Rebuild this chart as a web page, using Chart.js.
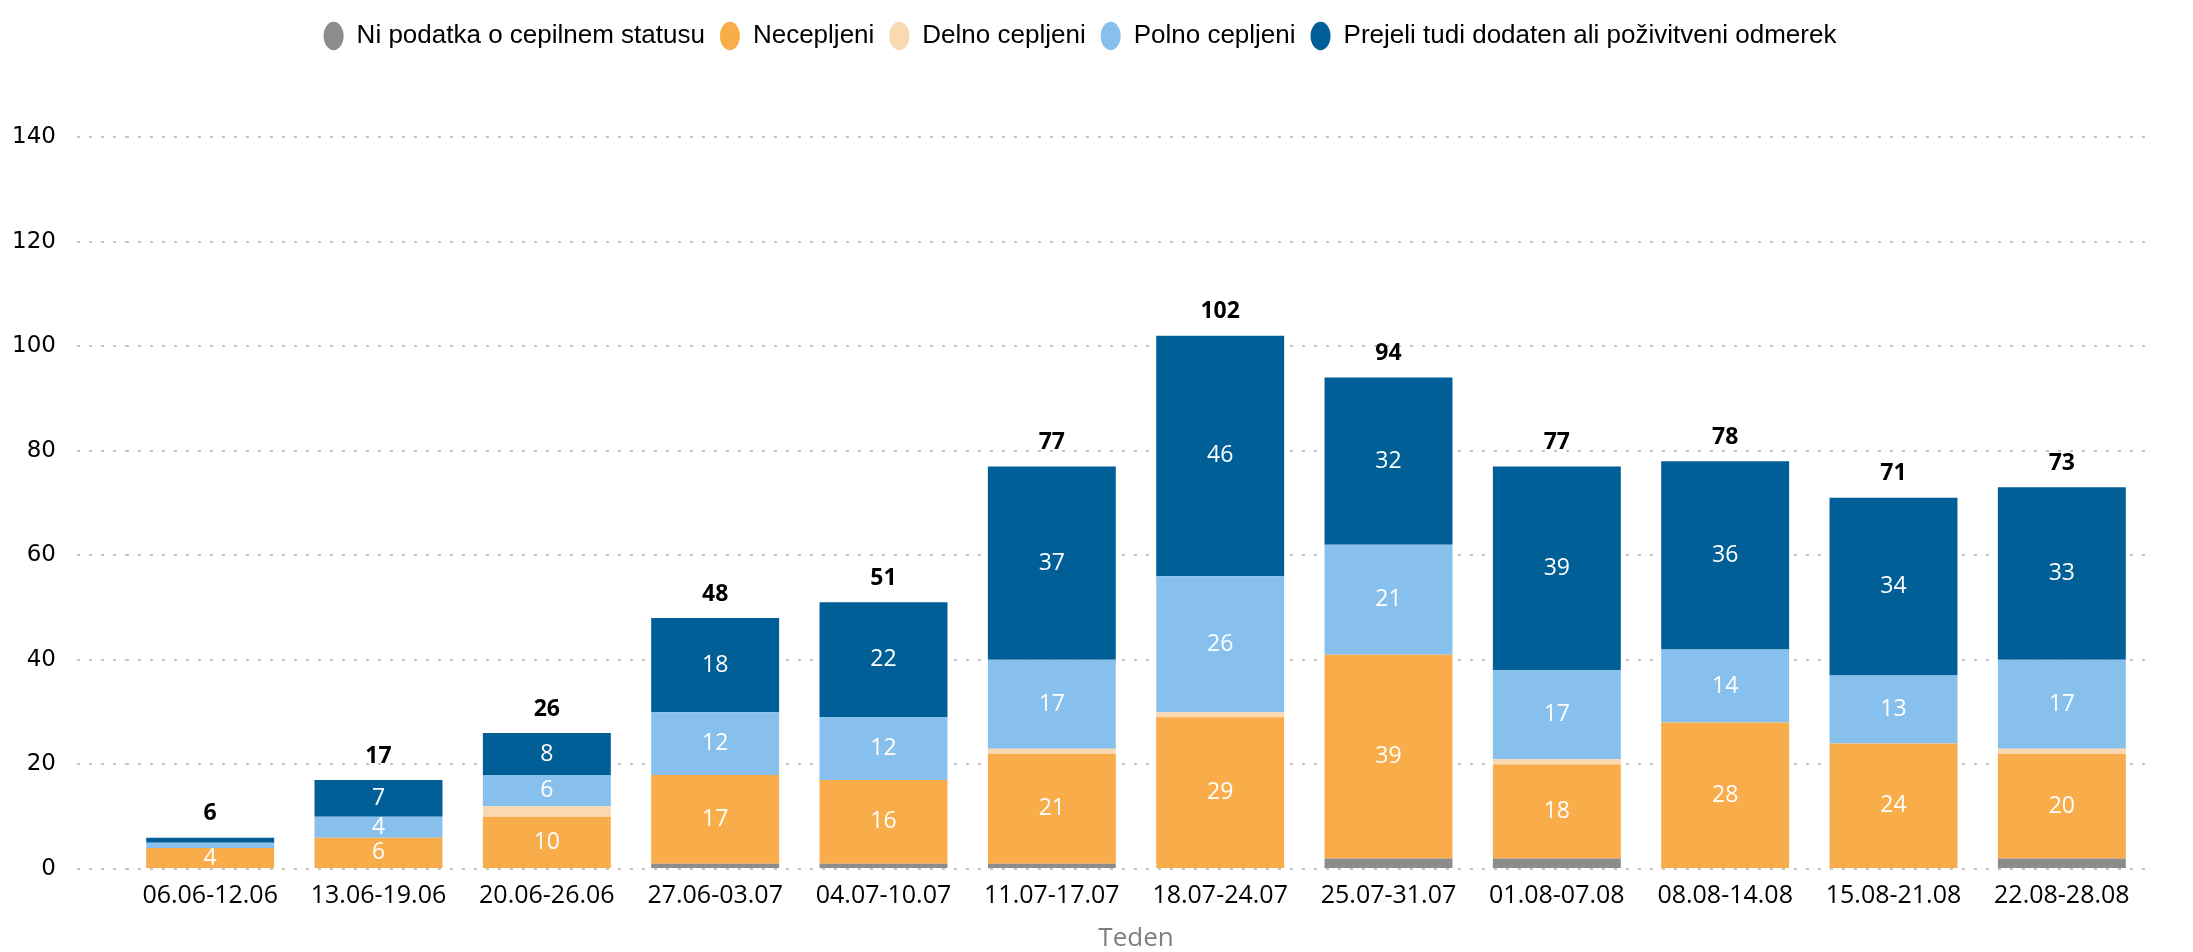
<!DOCTYPE html>
<html lang="sl">
<head>
    <meta charset="UTF-8">
    <title>Teden</title>
    <style>
        body { margin: 0; padding: 0; background: #ffffff; }
        #wrap { width: 2193px; height: 952px; }
    </style>
</head>
<body>
    <div id="wrap"><canvas id="chart" width="2193" height="952"></canvas></div>

    <script src="https://cdn.jsdelivr.net/npm/chart.js"></script>
    <script>
        // week labels and counts per vaccination status
        const weeks = ["06.06-12.06", "13.06-19.06", "20.06-26.06", "27.06-03.07", "04.07-10.07", "11.07-17.07",
                       "18.07-24.07", "25.07-31.07", "01.08-07.08", "08.08-14.08", "15.08-21.08", "22.08-28.08"];
        const noData    = [0, 0, 0, 1, 1, 1, 0, 2, 2, 0, 0, 2];
        const unvacc    = [4, 6, 10, 17, 16, 21, 29, 39, 18, 28, 24, 20];
        const partial   = [0, 0, 2, 0, 0, 1, 1, 0, 1, 0, 0, 1];
        const full      = [1, 4, 6, 12, 12, 17, 26, 21, 17, 14, 13, 17];
        const booster   = [1, 7, 8, 18, 22, 37, 46, 32, 39, 36, 34, 33];
        const yTicks    = [0, 20, 40, 60, 80, 100, 120, 140];

        const seriesNames = ["Ni podatka o cepilnem statusu", "Necepljeni", "Delno cepljeni", "Polno cepljeni",
                             "Prejeli tudi dodaten ali poživitveni odmerek"];
        const colors = ["#8c8c8c", "#f9ad4a", "#fbd9b0", "#87c0ec", "#005f96"];
        const labelled = [false, true, false, true, true];

        const series = [noData, unvacc, partial, full, booster];
        const totals = weeks.map((w, i) => series.reduce((s, arr) => s + arr[i], 0));

        // white numbers inside segments + bold totals on top
        const valueLabels = {
            id: 'valueLabels',
            afterDatasetsDraw(chart) {
                const ctx = chart.ctx;
                ctx.save();
                ctx.textAlign = 'center';
                ctx.textBaseline = 'middle';
                chart.data.datasets.forEach((ds, di) => {
                    if (!labelled[di]) return;
                    const meta = chart.getDatasetMeta(di);
                    meta.data.forEach((bar, i) => {
                        const v = ds.data[i];
                        if (v < 3) return;
                        ctx.fillStyle = '#ffffff';
                        ctx.font = '23px "Open Sans"';
                        ctx.fillText(String(v), bar.x, (bar.y + bar.base) / 2);
                    });
                });
                const top = chart.getDatasetMeta(chart.data.datasets.length - 1);
                const yScale = chart.scales.y;
                top.data.forEach((bar, i) => {
                    ctx.fillStyle = '#000000';
                    ctx.font = 'bold 23px "Open Sans"';
                    ctx.fillText(String(totals[i]), bar.x, yScale.getPixelForValue(totals[i]) - 24);
                });
                ctx.restore();
            }
        };

        // extra room between the legend and the plot
        const legendGap = {
            id: 'legendGap',
            beforeInit(chart) {
                const fit = chart.legend.fit;
                chart.legend.fit = function () {
                    fit.bind(chart.legend)();
                    this.height += 78;
                };
            }
        };

        const ctx = document.getElementById('chart').getContext('2d');
        const chart = new Chart(ctx, {
            type: 'bar',
            data: {
                labels: weeks,
                datasets: series.map((arr, i) => ({
                    label: seriesNames[i],
                    data: arr,
                    backgroundColor: colors[i],
                    borderWidth: 0,
                    barPercentage: 0.76,
                    categoryPercentage: 1.0
                }))
            },
            options: {
                responsive: false,
                animation: false,
                devicePixelRatio: 1,
                layout: { padding: { left: 14, right: 47, top: 8, bottom: 0 } },
                plugins: {
                    legend: {
                        position: 'top',
                        labels: {
                            usePointStyle: true,
                            pointStyle: 'circle',
                            boxHeight: 20,
                            pointStyleWidth: 20,
                            padding: 15,
                            color: '#000000',
                            font: { family: '"Liberation Sans Narrow", "Liberation Sans"', size: 26 }
                        }
                    },
                    tooltip: { enabled: false }
                },
                scales: {
                    x: {
                        stacked: true,
                        afterFit(scale) {
                            scale.height = 83;
                        },
                        grid: { display: false, drawTicks: false },
                        border: { display: false },
                        ticks: {
                            color: '#000000',
                            padding: 12,
                            maxRotation: 0,
                            autoSkip: false,
                            font: { family: '"Open Sans"', size: 25 }
                        },
                        title: {
                            display: true,
                            text: 'Teden',
                            color: '#7f7f7f',
                            padding: { top: 0, bottom: 0 },
                            font: { family: '"Open Sans"', size: 26, lineHeight: 1.0 }
                        }
                    },
                    y: {
                        stacked: true,
                        min: 0,
                        max: 140,
                        afterBuildTicks(scale) {
                            scale.ticks = yTicks.map(v => ({ value: v }));
                        },
                        afterFit(scale) {
                            scale.width = 112;
                        },
                        border: { display: false, dash: [3, 9] },
                        grid: {
                            color: '#c4c4c4',
                            lineWidth: 2,
                            tickLength: 49,
                            tickColor: '#c4c4c4',
                            tickBorderDash: [3, 9]
                        },
                        ticks: {
                            color: '#000000',
                            padding: 21,
                            font: { family: '"DejaVu Sans"', size: 23 }
                        }
                    }
                }
            },
            plugins: [valueLabels, legendGap]
        });
    </script>
</body>
</html>
